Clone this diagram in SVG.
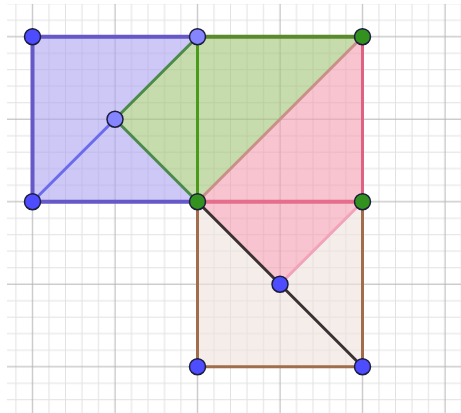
<svg xmlns="http://www.w3.org/2000/svg" width="461" height="413" viewBox="0 0 461 413">
  <defs>
    <pattern id="grid" patternUnits="userSpaceOnUse" x="24.25" y="28.45" width="82.5" height="82.5">
      <path d="M24.75 0V82.5M41.25 0V82.5M57.75 0V82.5M74.25 0V82.5M0 24.75H82.5M0 41.25H82.5M0 57.75H82.5M0 74.25H82.5" stroke="#e2e2e2" stroke-width="1" fill="none"/>
      <path d="M8.25 0V82.5M0 8.25H82.5" stroke="#b4b4b4" stroke-width="1" fill="none"/>
    </pattern>
  </defs>
  <style>
    .fill { fill-opacity: 0.6; }
    .seg { fill: none; stroke-linecap: round; }
    .pt { stroke: #1c1c3c; stroke-width: 1.5; }
    .dark { fill: #4d4dff; }
    .light { fill: #8585ff; }
    .grn { fill: #33921f; }
  </style>
  <rect x="0" y="0" width="461" height="413" fill="#ffffff"/>
  <rect x="7" y="4" width="454" height="409" fill="url(#grid)"/>

  <g id="shapes">
    <g id="blue-piece"><polygon class="fill" points="32.5,36.7 197.5,36.7 115,119.2 197.5,201.7 32.5,201.7" fill="#aca3ee"/></g>
    <g id="green-piece"><polygon class="fill" points="115,119.2 197.5,36.7 362.5,36.7 197.5,201.7" fill="#a0c575"/></g>
    <g id="pink-piece"><polygon class="fill" points="197.5,201.7 362.5,36.7 362.5,201.7 280,284.2" fill="#f29db1"/></g>
    <g id="peach-piece"><polygon class="fill" points="197.5,201.7 280,284.2 362.5,201.7 362.5,366.7 197.5,366.7" fill="#eee1da"/></g>
  </g>

  <g id="connectors">
    <path class="seg" d="M32.5 36.7H197.5M32.5 36.7V201.7H197.5" stroke="#6658c8" stroke-width="4"/>
    <path class="seg" d="M115 119.2L32.5 201.7" stroke="#6b6bf0" stroke-width="3"/>
    <path class="seg" d="M115 119.2L197.5 36.7M115 119.2L197.5 201.7" stroke="#4a8a4a" stroke-width="3"/>
    <path class="seg" d="M197.5 36.7H362.5" stroke="#5a8a2c" stroke-width="4"/>
    <path class="seg" d="M197.5 36.7V201.7" stroke="#4c9a1c" stroke-width="3"/>
    <path class="seg" d="M362.5 36.7L197.5 201.7" stroke="#c89088" stroke-width="3"/>
    <path class="seg" d="M362.5 36.7V201.7" stroke="#e06282" stroke-width="3"/>
    <path class="seg" d="M197.5 201.7H362.5" stroke="#e46e8c" stroke-width="4"/>
    <path class="seg" d="M362.5 201.7L280 284.2" stroke="#f2a2ba" stroke-width="3"/>
    <path class="seg" d="M197.5 201.7V366.7H362.5V201.7" stroke="#a06e4c" stroke-width="3"/>
    <path class="seg" d="M197.5 201.7L362.5 366.7" stroke="#3a3232" stroke-width="3"/>
  </g>

  <g id="pA"><circle class="pt dark" cx="32.5" cy="36.7" r="8"/></g>
  <g id="pB"><circle class="pt light" cx="197.5" cy="36.7" r="8"/></g>
  <g id="pC"><circle class="pt grn" cx="362.5" cy="36.7" r="8"/></g>
  <g id="pM"><circle class="pt light" cx="115" cy="119.2" r="8"/></g>
  <g id="pD"><circle class="pt dark" cx="32.5" cy="201.7" r="8"/></g>
  <g id="pE"><circle class="pt grn" cx="197.5" cy="201.7" r="8"/></g>
  <g id="pF"><circle class="pt grn" cx="362.5" cy="201.7" r="8"/></g>
  <g id="pP"><circle class="pt dark" cx="280" cy="284.2" r="8"/></g>
  <g id="pG"><circle class="pt dark" cx="197.5" cy="366.7" r="8"/></g>
  <g id="pH"><circle class="pt dark" cx="362.5" cy="366.7" r="8"/></g>
</svg>
